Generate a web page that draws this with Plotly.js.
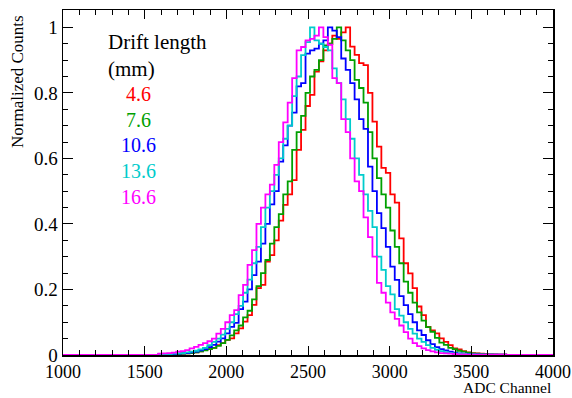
<!DOCTYPE html>
<html>
<head>
<meta charset="utf-8">
<script src="https://cdn.plot.ly/plotly-3.0.1.min.js"></script>
<style>
  html, body { margin: 0; padding: 0; background: #fff; }
  #chart { width: 572px; height: 398px; }
</style>
</head>
<body>
<div id="chart"></div>
<script>
// Histogram binning (ADC channels): bin k spans [k*binWidth, (k+1)*binWidth)
const binWidth = 4096 / 150;
const firstBin = 58;

const driftLengths = ['4.6', '7.6', '10.6', '13.6', '16.6'];
const seriesColors = ['#ff0000', '#00a000', '#0000ff', '#00cccc', '#ff00ff'];

// Normalized counts per bin, starting at bin index firstBin
const counts_4p6 = [
  0.001, 0.002, 0.002, 0.003, 0.003, 0.004, 0.005, 0.006, 0.008, 0.011,
  0.015, 0.018, 0.022, 0.030, 0.036, 0.046, 0.051, 0.066, 0.081, 0.102,
  0.122, 0.153, 0.204, 0.214, 0.285, 0.305, 0.350, 0.410, 0.458, 0.490,
  0.534, 0.626, 0.687, 0.760, 0.794, 0.865, 0.896, 0.930, 0.950, 0.975,
  0.965, 0.985, 1.000, 0.941, 0.916, 0.891, 0.885, 0.800, 0.712, 0.636,
  0.571, 0.556, 0.490, 0.465, 0.356, 0.280, 0.249, 0.204, 0.148, 0.122,
  0.086, 0.075, 0.066, 0.051, 0.040, 0.030, 0.020, 0.017, 0.012, 0.008,
  0.006, 0.005, 0.004, 0.003, 0.002, 0.002, 0.001, 0.001
];
const counts_7p6 = [
  0.001, 0.002, 0.002, 0.003, 0.003, 0.004, 0.005, 0.006, 0.008, 0.011,
  0.014, 0.018, 0.022, 0.028, 0.036, 0.046, 0.060, 0.075, 0.090, 0.115,
  0.135, 0.170, 0.210, 0.250, 0.290, 0.340, 0.390, 0.430, 0.490, 0.530,
  0.626, 0.680, 0.730, 0.800, 0.850, 0.870, 0.900, 0.945, 0.950, 0.965,
  1.000, 0.960, 0.930, 0.900, 0.840, 0.815, 0.770, 0.680, 0.600, 0.540,
  0.490, 0.450, 0.380, 0.330, 0.280, 0.224, 0.190, 0.160, 0.130, 0.105,
  0.085, 0.071, 0.052, 0.038, 0.031, 0.022, 0.018, 0.013, 0.010, 0.007,
  0.005, 0.004, 0.003, 0.002, 0.002, 0.001, 0.001, 0.001
];
const counts_10p6 = [
  0.002, 0.002, 0.003, 0.003, 0.004, 0.005, 0.006, 0.008, 0.010, 0.014,
  0.018, 0.024, 0.031, 0.041, 0.051, 0.066, 0.086, 0.098, 0.140, 0.163,
  0.200, 0.244, 0.285, 0.340, 0.400, 0.460, 0.500, 0.590, 0.640, 0.700,
  0.740, 0.820, 0.830, 0.920, 0.930, 0.935, 0.950, 0.960, 1.000, 0.990,
  0.970, 0.905, 0.870, 0.830, 0.780, 0.720, 0.690, 0.575, 0.500, 0.433,
  0.387, 0.330, 0.270, 0.229, 0.180, 0.152, 0.125, 0.100, 0.075, 0.061,
  0.045, 0.033, 0.024, 0.018, 0.014, 0.010, 0.007, 0.005, 0.004, 0.003,
  0.002, 0.002, 0.001, 0.001, 0.001, 0.001, 0.001, 0.001
];
const counts_13p6 = [
  0.002, 0.003, 0.003, 0.004, 0.005, 0.006, 0.008, 0.010, 0.013, 0.017,
  0.022, 0.030, 0.040, 0.050, 0.062, 0.080, 0.100, 0.125, 0.150, 0.190,
  0.230, 0.280, 0.330, 0.390, 0.450, 0.500, 0.550, 0.600, 0.660, 0.700,
  0.790, 0.850, 0.915, 0.955, 1.000, 0.960, 0.950, 0.940, 0.930, 0.875,
  0.830, 0.780, 0.720, 0.660, 0.600, 0.550, 0.490, 0.440, 0.390, 0.300,
  0.260, 0.210, 0.185, 0.140, 0.120, 0.100, 0.080, 0.065, 0.050, 0.040,
  0.030, 0.022, 0.016, 0.012, 0.009, 0.006, 0.005, 0.004, 0.003, 0.002,
  0.002, 0.001, 0.001, 0.001, 0.001, 0.001, 0.000, 0.000
];
const counts_16p6 = [
  0.004, 0.005, 0.006, 0.007, 0.010, 0.012, 0.015, 0.020, 0.025, 0.031,
  0.036, 0.042, 0.050, 0.065, 0.080, 0.100, 0.122, 0.137, 0.183, 0.214,
  0.275, 0.320, 0.400, 0.450, 0.490, 0.520, 0.580, 0.650, 0.710, 0.770,
  0.845, 0.930, 0.940, 0.960, 0.965, 0.975, 1.000, 0.970, 0.947, 0.845,
  0.830, 0.720, 0.680, 0.600, 0.530, 0.500, 0.420, 0.360, 0.300, 0.220,
  0.190, 0.160, 0.130, 0.110, 0.090, 0.070, 0.050, 0.036, 0.027, 0.020,
  0.015, 0.011, 0.008, 0.006, 0.005, 0.004, 0.003, 0.002, 0.002, 0.001,
  0.001, 0.001, 0.001, 0.001, 0.001, 0.001, 0.001, 0.001
];

const allCounts = [counts_4p6, counts_7p6, counts_10p6, counts_13p6, counts_16p6];

const xMin = 1000, xMax = 4000;

function stepXY(values) {
  const x = [xMin], y = [0];
  values.forEach((v, i) => { x.push((firstBin + i) * binWidth); y.push(v); });
  x.push((firstBin + values.length) * binWidth); y.push(0);
  x.push(xMax); y.push(0);
  return { x, y };
}

const traces = allCounts.map((vals, i) => {
  const s = stepXY(vals);
  return {
    type: 'scatter', mode: 'lines',
    x: s.x, y: s.y,
    line: { shape: 'hv', color: seriesColors[i], width: 1.8 },
    name: driftLengths[i],
    hoverinfo: 'skip'
  };
});

const serif = 'Liberation Serif';
const W = 572, H = 398;
const m = { l: 63, r: 19, t: 10, b: 43 };
const pw = W - m.l - m.r, ph = H - m.t - m.b;
const px = v => (v - m.l) / pw;
const py = v => (H - m.b - v) / ph;

const annotations = [
  { text: 'Drift length', x: px(106), y: py(42), xanchor: 'left', yanchor: 'middle', font: { size: 21 } },
  { text: '(mm)', x: px(106), y: py(69), xanchor: 'left', yanchor: 'middle', font: { size: 21 } },
  { text: 'ADC Channel', x: 1, y: py(388), xanchor: 'right', yanchor: 'middle', font: { size: 15.5 } },
  { text: 'Normalized Counts', x: px(17), y: py(82), xanchor: 'center', yanchor: 'middle', textangle: -90, font: { size: 17 } }
];
const labelY = [94, 120, 145, 171, 197];
driftLengths.forEach((d, i) => {
  annotations.push({ text: d, x: px(138), y: py(labelY[i]), xanchor: 'center', yanchor: 'middle',
    font: { size: 20, color: seriesColors[i] } });
});
annotations.forEach(a => {
  a.xref = 'paper'; a.yref = 'paper'; a.showarrow = false;
  a.font = Object.assign({ family: serif, color: '#000' }, a.font);
});

const layout = {
  width: W, height: H,
  margin: m,
  paper_bgcolor: '#fff', plot_bgcolor: '#fff',
  showlegend: false,
  font: { family: serif, size: 18, color: '#000' },
  xaxis: {
    range: [xMin, xMax], dtick: 500, tick0: 1000,
    ticks: 'inside', ticklen: 9, tickwidth: 1, tickcolor: '#000',
    minor: { dtick: 100, ticks: 'inside', ticklen: 5, tickcolor: '#000', tickwidth: 1, showgrid: false },
    showline: true, linecolor: '#000', linewidth: 1.5, mirror: 'allticks',
    showgrid: false, zeroline: false,
    tickfont: { family: serif, size: 18, color: '#000' }
  },
  yaxis: {
    range: [0, 1.053], dtick: 0.2, tick0: 0,
    ticks: 'inside', ticklen: 10, tickwidth: 1, tickcolor: '#000',
    minor: { dtick: 0.05, ticks: 'inside', ticklen: 5, tickcolor: '#000', tickwidth: 1, showgrid: false },
    showline: true, linecolor: '#000', linewidth: 1.5, mirror: 'allticks',
    showgrid: false, zeroline: false,
    tickfont: { family: serif, size: 19, color: '#000' }
  },
  annotations: annotations
};

Plotly.newPlot('chart', traces, layout, { staticPlot: true, displayModeBar: false });
</script>
</body>
</html>
